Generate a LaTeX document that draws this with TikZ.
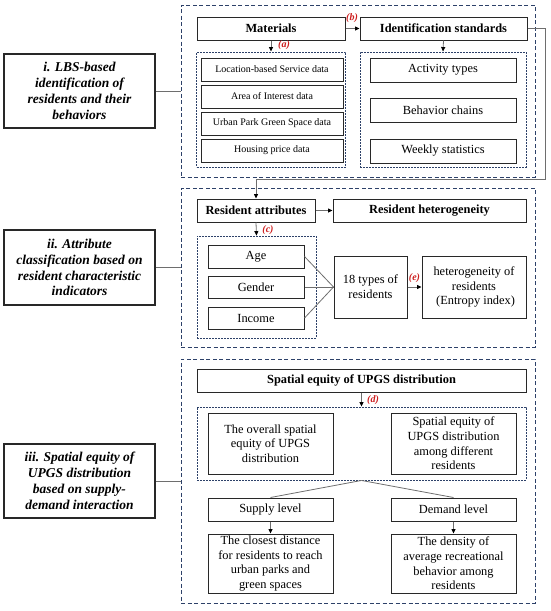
\documentclass[tikz,border=0pt]{standalone}
\usepackage{fontspec}
\setmainfont{Liberation Serif}
\usetikzlibrary{arrows.meta,calc}
\definecolor{dashblue}{RGB}{45,65,105}
\definecolor{linegray}{RGB}{110,110,110}
\definecolor{labred}{RGB}{205,30,30}
\definecolor{boxline}{RGB}{40,40,40}
\begin{document}
\begin{tikzpicture}[x=1pt,y=-1pt,
 wh/.style 2 args={minimum width=#1pt,minimum height=#2pt},
 box/.style={draw=boxline,line width=1pt,inner sep=1pt,align=center,font=\fontsize{12.4}{14.7}\selectfont},
 bbox/.style={box,font=\bfseries\fontsize{12.4}{14.7}\selectfont},
 sbox/.style={box,font=\fontsize{10}{12}\selectfont},
 lbox/.style={draw=boxline,line width=1.5pt,inner sep=1pt,align=center,font=\bfseries\itshape\fontsize{13.5}{15.8}\selectfont},
 outer/.style={draw=dashblue,line width=0.9pt,dash pattern=on 4pt off 2.5pt,inner sep=0pt},
 inner/.style={draw=dashblue,line width=0.9pt,dash pattern=on 2pt off 1pt,inner sep=0pt},
 arr/.style={draw=linegray,line width=0.8pt,-{Triangle[length=4.5pt,width=4pt,color=black]}},
 conn/.style={draw=linegray,line width=0.8pt},
 lab/.style={text=labred,font=\bfseries\itshape\fontsize{10}{12}\selectfont,inner sep=0pt}
]
\useasboundingbox (0,0) rectangle (550,611);

% ---------- left boxes ----------
\node[lbox,wh={151}{74}] (L1) at (79.5,91) {i. LBS-based\\identification of\\residents and their\\behaviors};
\node[lbox,wh={151}{75}] (L2) at (79.5,267.5) {ii. Attribute\\classification based on\\resident characteristic\\indicators};
\node[lbox,wh={151}{74}] (L3) at (79.5,481) {iii. Spatial equity of\\UPGS distribution\\based on supply-\\demand interaction};

% ---------- outer dashed boxes ----------
\node[outer,wh={354}{172}] (O1) at (358,91) {};
\node[outer,wh={354}{159}] (O2) at (358,267.5) {};
\node[outer,wh={354}{244}] (O3) at (358,481) {};

\draw[conn] (L1.east) -- (O1.west);
\draw[conn] (L2.east) -- (O2.west);
\draw[conn] (L3.east) -- (O3.west);

% ---------- section i ----------
\node[bbox,wh={148}{23}] (mat) at (271,28.5) {Materials};
\node[bbox,wh={167}{23}] (ids) at (443.5,28.5) {Identification standards};
\node[inner,wh={149}{115}] (D1a) at (271,109.5) {};
\node[inner,wh={166}{115}] (D1b) at (443,109.5) {};
\node[sbox,wh={142}{23}] (lbs) at (272,69.5) {Location-based Service data};
\node[sbox,wh={142}{23}] (aoi) at (272,96.5) {Area of Interest data};
\node[sbox,wh={142}{23}] (upg) at (272,123.5) {Urban Park Green Space data};
\node[sbox,wh={142}{23}] (hpd) at (272,150.5) {Housing price data};
\node[box,wh={146}{24}] (act) at (443,70) {Activity types};
\node[box,wh={146}{24}] (beh) at (443,110.5) {Behavior chains};
\node[box,wh={146}{24}] (wks) at (443,151) {Weekly statistics};

\draw[arr] (mat.east) -- (ids.west);
\draw[arr] (mat.south) -- (D1a.north);
\draw[arr] (ids.south) -- (D1b.north);
\node[lab] (la) at (284,45.5) {(a)};
\node[lab] (lb) at (352,18.5) {(b)};

% ---------- section ii ----------
\node[bbox,wh={118}{23}] (ra) at (256,210.5) {Resident attributes};
\node[bbox,wh={193}{23}] (rh) at (429.5,210.5) {Resident heterogeneity};
\node[inner,wh={119}{102}] (D2) at (256.5,287) {};
\node[box,wh={96}{23}] (age) at (256,256.5) {Age};
\node[box,wh={96}{22}] (gen) at (256,287) {Gender};
\node[box,wh={96}{22}] (inc) at (256,318) {Income};
\node[box,wh={73}{62}] (t18) at (370.5,287) {18 types of\\residents};
\node[box,wh={104}{62}] (het) at (474,287) {heterogeneity of\\residents\\\ (Entropy index)};

\coordinate (c1) at (545,179);
\draw[arr] (ids.east) -| (c1) -| (ra.north);
\draw[arr] (ra.east) -- (rh.west);
\draw[arr] (ra.south) -- (D2.north);
\draw[conn] (age.east) -- (t18.west);
\draw[conn] (gen.east) -- (t18.west);
\draw[conn] (inc.east) -- (t18.west);
\draw[arr] (t18.east) -- (het.west);
\node[lab] (lc) at (268,230) {(c)};
\node[lab] (le) at (414.5,278) {(e)};

% ---------- section iii ----------
\node[bbox,wh={329}{23}] (se) at (361.5,380.5) {Spatial equity of UPGS distribution};
\node[inner,wh={329}{73}] (D3) at (361.5,443.5) {};
\node[box,wh={125}{61}] (ov) at (270.5,443.5) {The overall spatial\\equity of UPGS\\distribution};
\node[box,wh={125}{61}] (sa) at (453.5,443.5) {Spatial equity of\\UPGS distribution\\among different\\residents};
\node[box,wh={125}{23}] (sl) at (270.5,509.5) {Supply level};
\node[box,wh={125}{23}] (dl) at (453.5,509.5) {Demand level};
\node[box,wh={125}{59}] (cd) at (270.5,563.5) {The closest distance\\for residents to reach\\urban parks and\\green spaces};
\node[box,wh={125}{59}] (dn) at (453.5,563.5) {The density of\\average recreational\\behavior among\\residents};

\draw[arr] (se.south) -- (D3.north);
\draw[conn] (D3.south) -- (sl.north);
\draw[conn] (D3.south) -- (dl.north);
\draw[arr] (sl.south) -- (cd.north);
\draw[arr] (dl.south) -- (dn.north);
\node[lab] (ld) at (373,400) {(d)};
\end{tikzpicture}
\end{document}
